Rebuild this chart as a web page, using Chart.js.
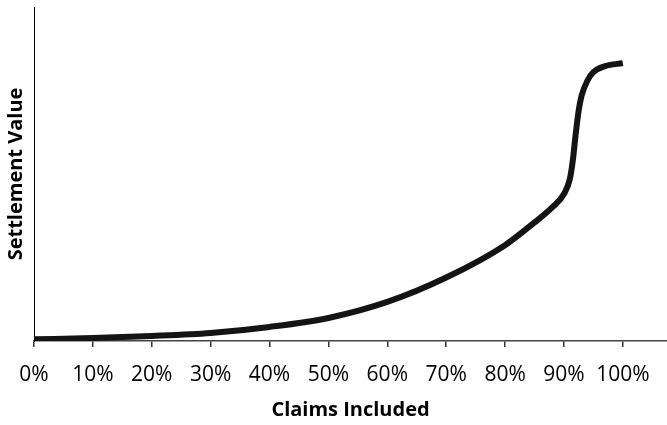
<!DOCTYPE html>
<html>
<head>
<meta charset="utf-8">
<script src="https://cdn.jsdelivr.net/npm/chart.js@4/dist/chart.umd.min.js"></script>
<style>
  html, body { margin: 0; padding: 0; background: #fff; }
  #wrap { width: 667px; height: 425px; }
</style>
</head>
<body>
<div id="wrap"><canvas id="curva"></canvas></div>
<script>
// share of claims included (0..1) and settlement value (arbitrary units, 0..100)
const claimsIncluded = [0, 0.1, 0.2, 0.3, 0.4, 0.5, 0.6, 0.7, 0.8, 0.85, 0.88, 0.9, 0.91, 0.915, 0.92, 0.925, 0.93, 0.94, 0.95, 0.97, 1.0];
const settlementValue = [0.5, 0.9, 1.5, 2.4, 4.2, 6.9, 11.7, 19, 28.7, 35.5, 40, 44, 48.5, 54, 62, 69, 73.5, 78, 80.5, 82.3, 83.2];
const tickLabels = ['0%', '10%', '20%', '30%', '40%', '50%', '60%', '70%', '80%', '90%', '100%'];

const puntos = claimsIncluded.map((x, i) => ({ x: x, y: settlementValue[i] }));
const fuente = '"Open Sans", Lato, sans-serif';

const ctx = document.getElementById('curva').getContext('2d');
new Chart(ctx, {
    type: 'line',
    data: {
        datasets: [{
            data: puntos,
            borderColor: '#141414',
            borderWidth: 6,
            pointRadius: 0,
            cubicInterpolationMode: 'monotone',
            fill: false
        }]
    },
    options: {
        responsive: true,
        maintainAspectRatio: false,
        animation: false,
        layout: { padding: { top: 7, right: 0, left: 0, bottom: 0 } },
        plugins: { legend: { display: false }, tooltip: { enabled: false } },
        scales: {
            x: {
                type: 'linear',
                min: 0,
                max: 1.075,
                // one tick per label, 0% .. 100%
                afterBuildTicks: function (scale) {
                    scale.ticks = tickLabels.map((_, i) => ({ value: i / 10 }));
                },
                ticks: {
                    padding: 15,
                    color: '#000',
                    font: { family: fuente, size: 21 },
                    maxRotation: 0,
                    autoSkip: false,
                    callback: function (v) { return tickLabels[Math.round(v * 10)]; }
                },
                grid: { display: true, drawOnChartArea: false, drawTicks: true, tickLength: 6, color: '#333', lineWidth: 1.5 },
                border: { display: true, color: '#444', width: 1.5, dash: [3, 1] },
                title: {
                    display: true,
                    text: 'Claims Included',
                    color: '#000',
                    font: { family: fuente, size: 20, weight: 'bold' },
                    padding: { top: 0, bottom: 3 }
                },
                afterFit: function (scale) { scale.height = 84; }
            },
            y: {
                min: 0,
                max: 100,
                ticks: { display: false },
                grid: { display: false },
                border: { display: true, color: '#000', width: 1 },
                title: {
                    display: true,
                    text: 'Settlement Value',
                    color: '#000',
                    font: { family: fuente, size: 20, weight: 'bold' },
                    padding: { top: 4, bottom: 6 }
                },
                afterFit: function (scale) { scale.width = 34; }
            }
        }
    }
});
</script>
</body>
</html>
